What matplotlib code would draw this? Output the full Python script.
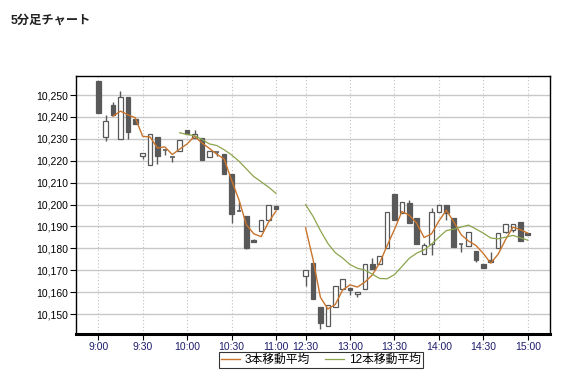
import matplotlib
matplotlib.use("Agg")
import matplotlib.pyplot as plt
import numpy as np
import pandas as pd

plt.rcParams['font.family'] = ['Liberation Sans', 'Noto Sans CJK JP', 'DejaVu Sans']

# 5-minute bars, morning session 9:00-11:00 and afternoon 12:30-15:00
am_times = ['9:00', '9:05', '9:10', '9:15', '9:20', '9:25', '9:30', '9:35', '9:40', '9:45',
            '9:50', '9:55', '10:00', '10:05', '10:10', '10:15', '10:20', '10:25', '10:30',
            '10:35', '10:40', '10:45', '10:50', '10:55', '11:00']
pm_times = ['12:30', '12:35', '12:40', '12:45', '12:50', '12:55', '13:00', '13:05', '13:10',
            '13:15', '13:20', '13:25', '13:30', '13:35', '13:40', '13:45', '13:50', '13:55',
            '14:00', '14:05', '14:10', '14:15', '14:20', '14:25', '14:30', '14:35', '14:40',
            '14:45', '14:50', '14:55', '15:00']

opens = [10256.5, 10231, 10245.5, 10230, 10249, 10239, 10222, 10218, 10231, 10225,
         10221.5, 10224.5, 10234, 10230.5, 10230.5, 10221.5, 10224, 10223, 10214, 10197,
         10195, 10184, 10188, 10193, 10199.5,
         10167.5, 10173.5, 10153, 10144.7, 10153, 10161.5, 10162, 10159, 10161.3, 10173,
         10173, 10180, 10205, 10196.3, 10200.5, 10194, 10177.3, 10182, 10196.7, 10200,
         10193.7, 10182, 10181, 10179, 10173, 10174.5, 10180, 10187.6, 10188.4, 10192, 10187]
highs = [10256.5, 10241, 10247, 10252, 10249, 10239, 10223.5, 10232, 10231, 10225,
         10221.5, 10229.5, 10234, 10234, 10230.5, 10224.5, 10224, 10223, 10214, 10201,
         10195, 10184.5, 10193, 10200, 10199.5,
         10170, 10173.5, 10153, 10154, 10163, 10166, 10162, 10160, 10172.8, 10175.5,
         10176.5, 10196.4, 10205, 10201, 10202, 10194, 10182.6, 10198.3, 10199.8, 10200,
         10193.7, 10182, 10187.3, 10179, 10173, 10178.5, 10187, 10191, 10191.1, 10192, 10187]
lows = [10242, 10229, 10241, 10230, 10230, 10237, 10221, 10218, 10218.5, 10222.5,
        10219.5, 10224.5, 10232, 10230.5, 10220.5, 10221.5, 10222, 10214, 10191.5, 10197,
        10179.5, 10183, 10188, 10193, 10198,
        10163, 10157, 10143, 10144.7, 10153, 10161.5, 10158.5, 10158, 10161.3, 10170.7,
        10173, 10180, 10193, 10196.3, 10191.4, 10182, 10177.3, 10177, 10196.7, 10193,
        10180.7, 10178.5, 10181, 10174, 10171, 10174, 10180, 10187, 10187.3, 10183.5, 10186.3]
closes = [10242, 10238, 10241, 10249, 10233, 10237, 10223.5, 10232, 10222, 10225,
          10221.5, 10229.5, 10232, 10232, 10220.5, 10224.5, 10224, 10214, 10195.5, 10197,
          10180, 10183, 10193, 10200, 10198,
          10170, 10157, 10146, 10154, 10163, 10166, 10161, 10160, 10172.8, 10170.7,
          10176.5, 10196.4, 10193, 10201, 10191.4, 10182, 10181.4, 10196.4, 10199.8, 10196,
          10180.7, 10182, 10187.3, 10174.7, 10171, 10174, 10187, 10191, 10191.1, 10183.5, 10186.3]

tick_labels = ['9:00', '9:30', '10:00', '10:30', '11:00', '12:30', '13:00', '13:30',
               '14:00', '14:30', '15:00']
y_ticks = [10150, 10160, 10170, 10180, 10190, 10200, 10210, 10220, 10230, 10240, 10250]

# slot positions: afternoon starts after a gap of 3 empty slots
gap = 3
pos = list(range(len(am_times))) + [len(am_times) + gap + j for j in range(len(pm_times))]
times = am_times + pm_times
pos_of = dict(zip(times, pos))

df = pd.DataFrame({'o': opens, 'h': highs, 'l': lows, 'c': closes, 'x': pos})
df['ma3'] = df['c'].rolling(3).mean()
df['ma12'] = df['c'].rolling(12).mean()

fig = plt.figure(figsize=(5.62, 3.72), dpi=100)
ax = fig.add_axes([76/562, 1 - 334/372, (550-76)/562, (334-76)/372])

ax.set_xlim(-3, 61)
ax.set_ylim(10140.9, 10258.7)

for y in y_ticks:
    ax.axhline(y, color='#c8c8c8', lw=1, zorder=0)
for t in tick_labels:
    ax.axvline(pos_of[t], color='#c0c0c0', lw=0.8, ls=(0, (1, 2)), zorder=0)

dark = '#595959'
w = 0.62
for _, r in df.iterrows():
    ax.vlines(r.x, r.l, r.h, color=dark, lw=1, zorder=2)
    lo, hi = min(r.o, r.c), max(r.o, r.c)
    up = r.c > r.o
    if hi - lo < 0.4:
        ax.hlines(lo, r.x - w/2, r.x + w/2, color=dark, lw=1.2, zorder=3)
    else:
        ax.bar(r.x, hi - lo, bottom=lo, width=w, facecolor='white' if up else dark,
               edgecolor=dark, lw=0.9, zorder=3)

n_am = len(am_times)
ma3_color = '#c8742c'
ma12_color = '#8ca44c'
am, pm = df.iloc[:n_am], df.iloc[n_am:]
l3, = ax.plot(am.x, am.ma3, color=ma3_color, lw=1, zorder=4)
ax.plot(pm.x, pm.ma3, color=ma3_color, lw=1, zorder=4)
l12, = ax.plot(am.x, am.ma12, color=ma12_color, lw=0.9, zorder=4)
ax.plot(pm.x, pm.ma12, color=ma12_color, lw=0.9, zorder=4)

ax.set_yticks(y_ticks)
ax.set_yticklabels([f'{v:,}' for v in y_ticks], fontsize=7.5, color='black')
ax.set_xticks([pos_of[t] for t in tick_labels])
ax.set_xticklabels(tick_labels, fontsize=7.5, color='#1c1c6c')
ax.tick_params(axis='both', direction='out', length=4, width=0.8, color='black', pad=1.5)

for s in ['left', 'top', 'right']:
    ax.spines[s].set_linewidth(1)
    ax.spines[s].set_color('black')
ax.spines['bottom'].set_linewidth(2.2)

fig.text(11/562, 1 - 21/372, '5分足チャート', fontsize=8.8, fontweight='bold',
         va='center', ha='left', color='#222222')

leg = fig.legend([l3, l12], ['3本移動平均', '12本移動平均'], loc='center',
                 bbox_to_anchor=(321/562, 1 - 360/372), ncol=2, fontsize=8.5,
                 frameon=True, fancybox=False, handlelength=1.6, handletextpad=0.4,
                 columnspacing=1.3, borderpad=0.15, borderaxespad=0)
leg.get_frame().set_edgecolor('black')
leg.get_frame().set_linewidth(0.8)

fig.savefig('out.png', dpi=100)
